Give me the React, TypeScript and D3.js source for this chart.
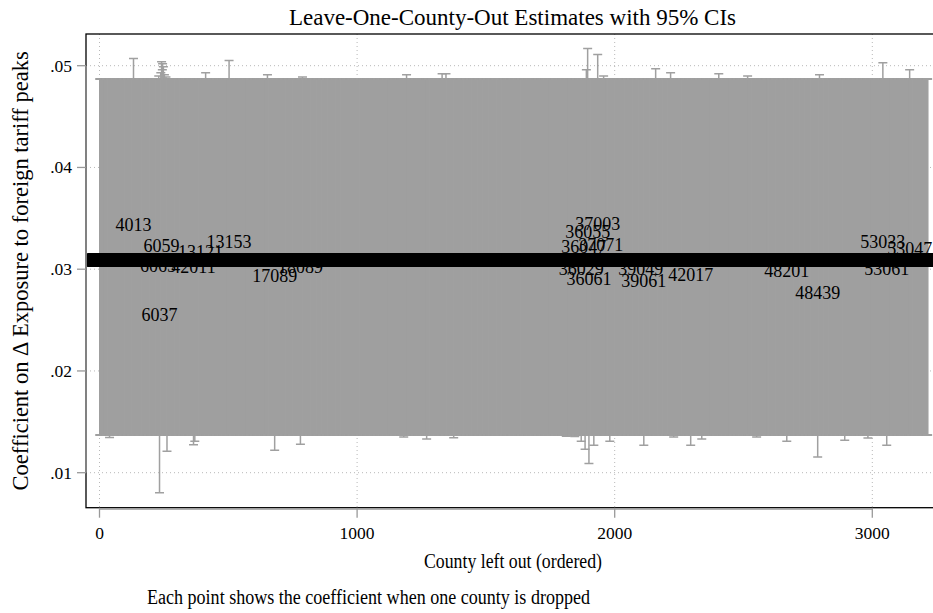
import React from "react";
import * as d3 from "d3";

// canvas
const W = 933;
const H = 613;

// counties in the leave-one-out run, and the typical estimate / CI that most of them share
const N_COUNTIES = 3215;
const typicalEst = 0.0309;
const typicalLo = 0.0137;
const typicalHi = 0.0487;

// counties that stand out from the band (rank on x axis), null = typical value
const notableRank = [39, 132, 227, 230, 233, 238, 241, 244, 245, 248, 252, 258, 262, 365, 370, 392, 412, 503, 652, 680, 780, 788, 1181, 1192, 1270, 1330, 1345, 1375, 1812, 1845, 1870, 1880, 1885, 1890, 1895, 1900, 1919, 1934, 1946, 1957, 1981, 2101, 2113, 2159, 2217, 2229, 2295, 2338, 2404, 2516, 2551, 2668, 2788, 2795, 2893, 2983, 3041, 3056, 3145];
const notableFips = ["", "4013", "6065", "", "6037", "", "6059", "", "", "", "", "", "", "42011", "", "13121", "", "13153", "", "17089", "18089", "", "", "", "", "", "", "", "", "", "36029", "36047", "", "", "36055", "36061", "", "37003", "37071", "", "", "39049", "39061", "", "", "", "42017", "", "", "", "", "48201", "48439", "", "", "", "53033", "53061", "53047"];
const notableEst = [null, 0.0343, 0.0303, null, 0.0255, null, 0.03225, null, null, null, null, null, null, 0.0302, null, 0.0317, null, 0.03265, null, 0.0293, 0.0302, null, null, null, null, null, null, null, null, null, 0.03, 0.03216, null, null, 0.03363, 0.029, null, 0.03441, 0.03235, null, null, 0.03, 0.0288, null, null, null, 0.0294, null, null, null, null, 0.0298, 0.02765, null, null, null, 0.03265, 0.03, 0.03196];
const notableLo = [0.01346, null, null, null, 0.00804, null, null, null, null, null, null, null, 0.0121, 0.01275, 0.0131, null, null, null, null, 0.0122, 0.0128, null, 0.0135, null, 0.0133, null, null, 0.01343, 0.01358, 0.01355, 0.0131, null, 0.0123, null, null, 0.0109, 0.0127, null, null, null, 0.0131, null, 0.0127, null, null, 0.0135, 0.0127, 0.0133, null, null, 0.0135, 0.0131, 0.01155, null, 0.0132, 0.0134, null, 0.0127, null];
const notableHi = [null, 0.0507, null, 0.049, null, 0.0493, 0.0504, 0.0496, 0.0502, 0.0499, 0.0491, 0.0489, null, null, null, null, 0.0493, 0.0505, 0.0491, null, null, 0.0489, null, 0.0491, null, 0.0492, 0.0492, null, null, null, null, null, null, 0.0496, 0.0517, null, null, 0.0511, null, 0.049, null, null, null, 0.0497, 0.0493, null, null, null, 0.0492, 0.049, null, null, null, 0.0491, null, null, 0.0503, null, 0.0496];

// axes
const xTicks = [0, 1000, 2000, 3000];
const yTicks = [0.01, 0.02, 0.03, 0.04, 0.05];
const yTickLabels = [".01", ".02", ".03", ".04", ".05"];

const FONT = "'Liberation Serif', 'Times New Roman', serif";

export default function App() {
  // plot region
  const plot = { left: 86, top: 34, right: 934, bottom: 507.7 };

  const x = d3.scaleLinear().domain([0, 3000]).range([99.5, 872.3]);
  const y = d3.scaleLinear().domain([0.01, 0.05]).range([472.7, 65.7]);

  const counties = d3.range(1, N_COUNTIES + 1).map((rank) => {
    const i = notableRank.indexOf(rank);
    if (i < 0) return { rank, fips: "", est: typicalEst, lo: typicalLo, hi: typicalHi };
    return {
      rank,
      fips: notableFips[i],
      est: notableEst[i] ?? typicalEst,
      lo: notableLo[i] ?? typicalLo,
      hi: notableHi[i] ?? typicalHi,
    };
  });

  const capW = 4.5;
  const capPath = (d) => {
    const cx = x(d.rank);
    const yl = y(d.lo);
    const yh = y(d.hi);
    return `M${cx - capW},${yl}H${cx + capW}M${cx},${yl}V${yh}M${cx - capW},${yh}H${cx + capW}`;
  };

  const labelled = counties.filter((d) => d.fips !== "");
  const plain = counties.filter((d) => d.fips === "");

  return (
    <svg
      width={W}
      height={H}
      style={{ position: "absolute", left: 0, top: 0, background: "#fff" }}
      fontFamily={FONT}
    >
      <rect x={0} y={0} width={W} height={H} fill="#fff" />

      {/* grid */}
      {yTicks.map((t) => (
        <line key={"gy" + t} x1={plot.left} x2={plot.right} y1={y(t)} y2={y(t)} stroke="#b8b8b8" strokeDasharray="1 3" />
      ))}
      {xTicks.map((t) => (
        <line key={"gx" + t} x1={x(t)} x2={x(t)} y1={plot.top} y2={plot.bottom} stroke="#b8b8b8" strokeDasharray="1 3" />
      ))}

      {/* 95% CIs */}
      <g stroke="#a0a0a0" strokeWidth={1.5} fill="none">
        {counties.map((d) => (
          <path key={d.rank} d={capPath(d)} />
        ))}
      </g>

      {/* point estimates: overlapping county labels form a solid band */}
      <g fill="#000">
        {plain.map((d) => (
          <rect key={d.rank} x={x(d.rank) - 13} y={y(d.est) - 6.5} width={26} height={13} />
        ))}
      </g>
      <g fontSize={18} textAnchor="middle" fill="#000">
        {labelled.map((d) => (
          <text key={d.rank} x={x(d.rank)} y={y(d.est)} dy="0.33em">
            {d.fips}
          </text>
        ))}
      </g>

      {/* frame */}
      <rect
        x={plot.left}
        y={plot.top}
        width={plot.right - plot.left}
        height={plot.bottom - plot.top}
        fill="none"
        stroke="#000"
        strokeWidth={1.3}
      />

      {/* y axis */}
      <line x1={plot.left} x2={plot.left} y1={y(0.05)} y2={y(0.01)} stroke="#999" strokeWidth={1.3} />
      {yTicks.map((t, i) => (
        <g key={"yt" + t}>
          <line x1={plot.left - 9} x2={plot.left} y1={y(t)} y2={y(t)} stroke="#999" strokeWidth={1.3} />
          <text x={72} y={y(t)} dy="0.34em" textAnchor="end" fontSize={17.5}>
            {yTickLabels[i]}
          </text>
        </g>
      ))}

      {/* x axis */}
      <line x1={x(0)} x2={x(3000)} y1={plot.bottom + 1.5} y2={plot.bottom + 1.5} stroke="#999" strokeWidth={1.3} />
      {xTicks.map((t) => (
        <g key={"xt" + t}>
          <line x1={x(t)} x2={x(t)} y1={plot.bottom} y2={plot.bottom + 10} stroke="#999" strokeWidth={1.3} />
          <text x={x(t)} y={539} textAnchor="middle" fontSize={17.5}>
            {t}
          </text>
        </g>
      ))}

      {/* titles */}
      <text x={512.5} y={25} textAnchor="middle" fontSize={23}>
        Leave-One-County-Out Estimates with 95% CIs
      </text>
      <text x={513} y={568} textAnchor="middle" fontSize={20.5} textLength={178} lengthAdjust="spacingAndGlyphs">
        County left out (ordered)
      </text>
      <text transform={`translate(28,${(plot.top + plot.bottom) / 2}) rotate(-90)`} textAnchor="middle" fontSize={22.5}>
        Coefficient on Δ Exposure to foreign tariff peaks
      </text>
      <text x={147} y={604} fontSize={20} textLength={443} lengthAdjust="spacingAndGlyphs">
        Each point shows the coefficient when one county is dropped
      </text>
    </svg>
  );
}
